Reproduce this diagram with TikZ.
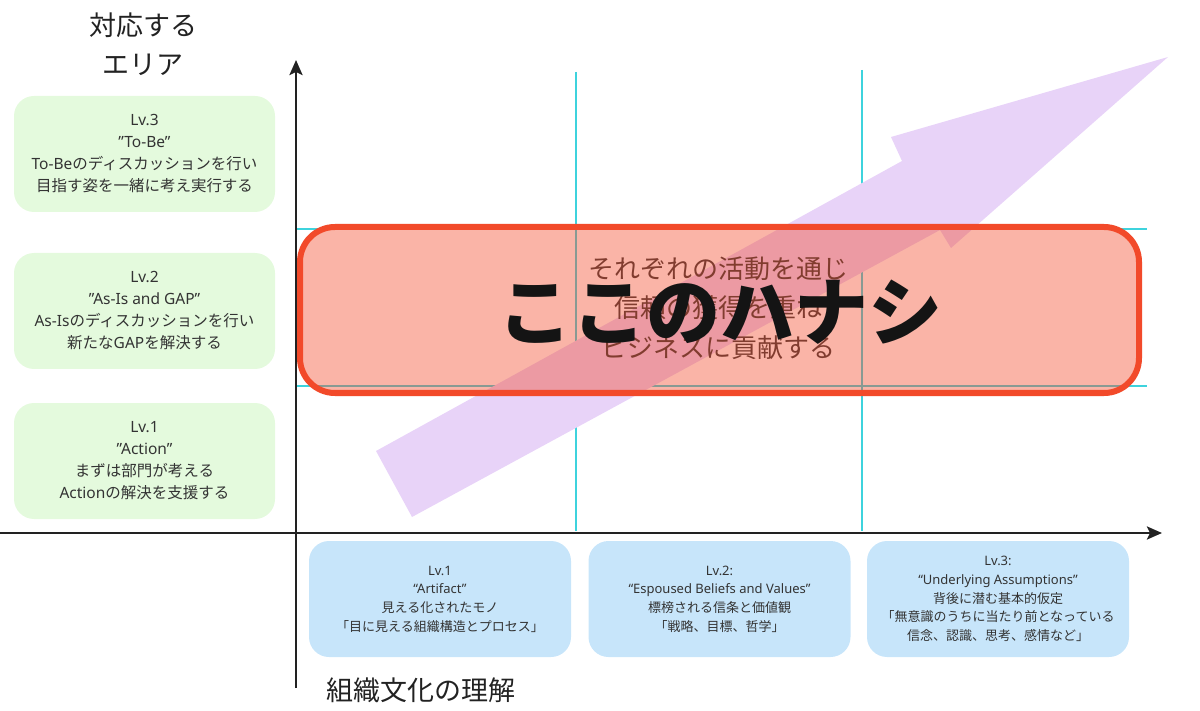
\documentclass[tikz,border=0pt]{standalone}
\usepackage{fontspec}
\setmainfont{Noto Sans CJK JP}
\newfontfamily\lat{Noto Sans}
\usetikzlibrary{arrows.meta}
\definecolor{gboxc}{HTML}{E4FADD}
\definecolor{bboxc}{HTML}{C7E5FA}
\definecolor{gridc}{HTML}{3ED3DD}
\definecolor{arrowc}{HTML}{E8D3F8}
\definecolor{redc}{HTML}{F24A2A}
\definecolor{txtc}{HTML}{333333}
\definecolor{axisc}{HTML}{222222}
\tikzset{
  lbox/.style={rounded corners=20pt, fill=gboxc, minimum width=261pt, minimum height=116pt,
    align=center, text=txtc, inner sep=0pt, font=\fontsize{15.5}{22}\selectfont},
  bbox/.style={rounded corners=20pt, fill=bboxc, minimum width=262pt, minimum height=116pt,
    align=center, text=txtc, inner sep=0pt, font=\fontsize{13}{18.7}\selectfont},
  gridline/.style={draw=gridc, line width=2pt},
  axisline/.style={draw=axisc, line width=2.5pt, -{Stealth[length=15pt,width=13pt,inset=3pt]}},
  bigarrow/.style={fill=arrowc},
  focusbox/.style={draw=redc, line width=6pt, fill=redc, fill opacity=0.41, draw opacity=1, rounded corners=35pt},
  titletext/.style={text=axisc, align=center, font=\fontsize{27}{39}\selectfont},
}
\begin{document}
\begin{tikzpicture}[x=1pt,y=-1pt]
\useasboundingbox (0,0) rectangle (1200,711);
% grid lines
\coordinate (g1t) at (576,72);  \coordinate (g1b) at (576,531);
\coordinate (g2t) at (862,70);  \coordinate (g2b) at (862,531);
\coordinate (h1l) at (297,229); \coordinate (h1r) at (1147,229);
\coordinate (h2l) at (297,386); \coordinate (h2r) at (1147,386);
\draw[gridline] (g1t) -- (g1b);
\draw[gridline] (g2t) -- (g2b);
\draw[gridline] (h1l) -- (h1r);
\draw[gridline] (h2l) -- (h2r);
% axes
\coordinate (yb) at (296,688); \coordinate (yt) at (296,60);
\coordinate (xl) at (0,533);   \coordinate (xr) at (1162,533);
\draw[axisline] (yb) -- (yt);
\draw[axisline] (xl) -- (xr);
% big arrow
\fill[bigarrow] (376,451) -- (902,161) -- (891,137) -- (1168,57) -- (951,248) -- (940,230) -- (412,517) -- cycle;
% text under the focus box
\node[text=txtc, align=center, font=\fontsize{26}{39.5}\selectfont] (sub) at (718,308)
  {それぞれの活動を通じ\\信頼の獲得を重ね\\ビジネスに貢献する};
% focus box
\draw[focusbox] (300,227) rectangle (1139,393);
\node[text=black!92, font=\fontsize{74}{80}\selectfont\bfseries] (big) at (720,312) {ここのハナシ};
% left boxes
\node[lbox] (l3) at (144.5,154) {{\lat Lv.3}\\{\lat ”To-Be”}\\{\lat To-Be}のディスカッションを行い\\目指す姿を一緒に考え実行する};
\node[lbox] (l2) at (144.5,311) {{\lat Lv.2}\\{\lat ”As-Is and GAP”}\\{\lat As-Is}のディスカッションを行い\\新たな{\lat GAP}を解決する};
\node[lbox] (l1) at (144.5,461) {{\lat Lv.1}\\{\lat ”Action”}\\まずは部門が考える\\{\lat Action}の解決を支援する};
% bottom boxes
\node[bbox] (b1) at (440,599) {{\lat Lv.1}\\{\lat “Artifact”}\\見える化されたモノ\\「目に見える組織構造とプロセス」};
\node[bbox] (b2) at (719.5,599) {{\lat Lv.2:}\\{\lat “Espoused Beliefs and Values”}\\標榜される信条と価値観\\「戦略、目標、哲学」};
\node[bbox] (b3) at (998,599) {{\lat Lv.3:}\\{\lat “Underlying Assumptions”}\\背後に潜む基本的仮定\\「無意識のうちに当たり前となっている\\信念、認識、思考、感情など」};
% titles
\node[titletext] (ty) at (143,44.5) {対応する\\エリア};
\node[titletext, anchor=west] (tx) at (323,690) {組織文化の理解};
\end{tikzpicture}
\end{document}
